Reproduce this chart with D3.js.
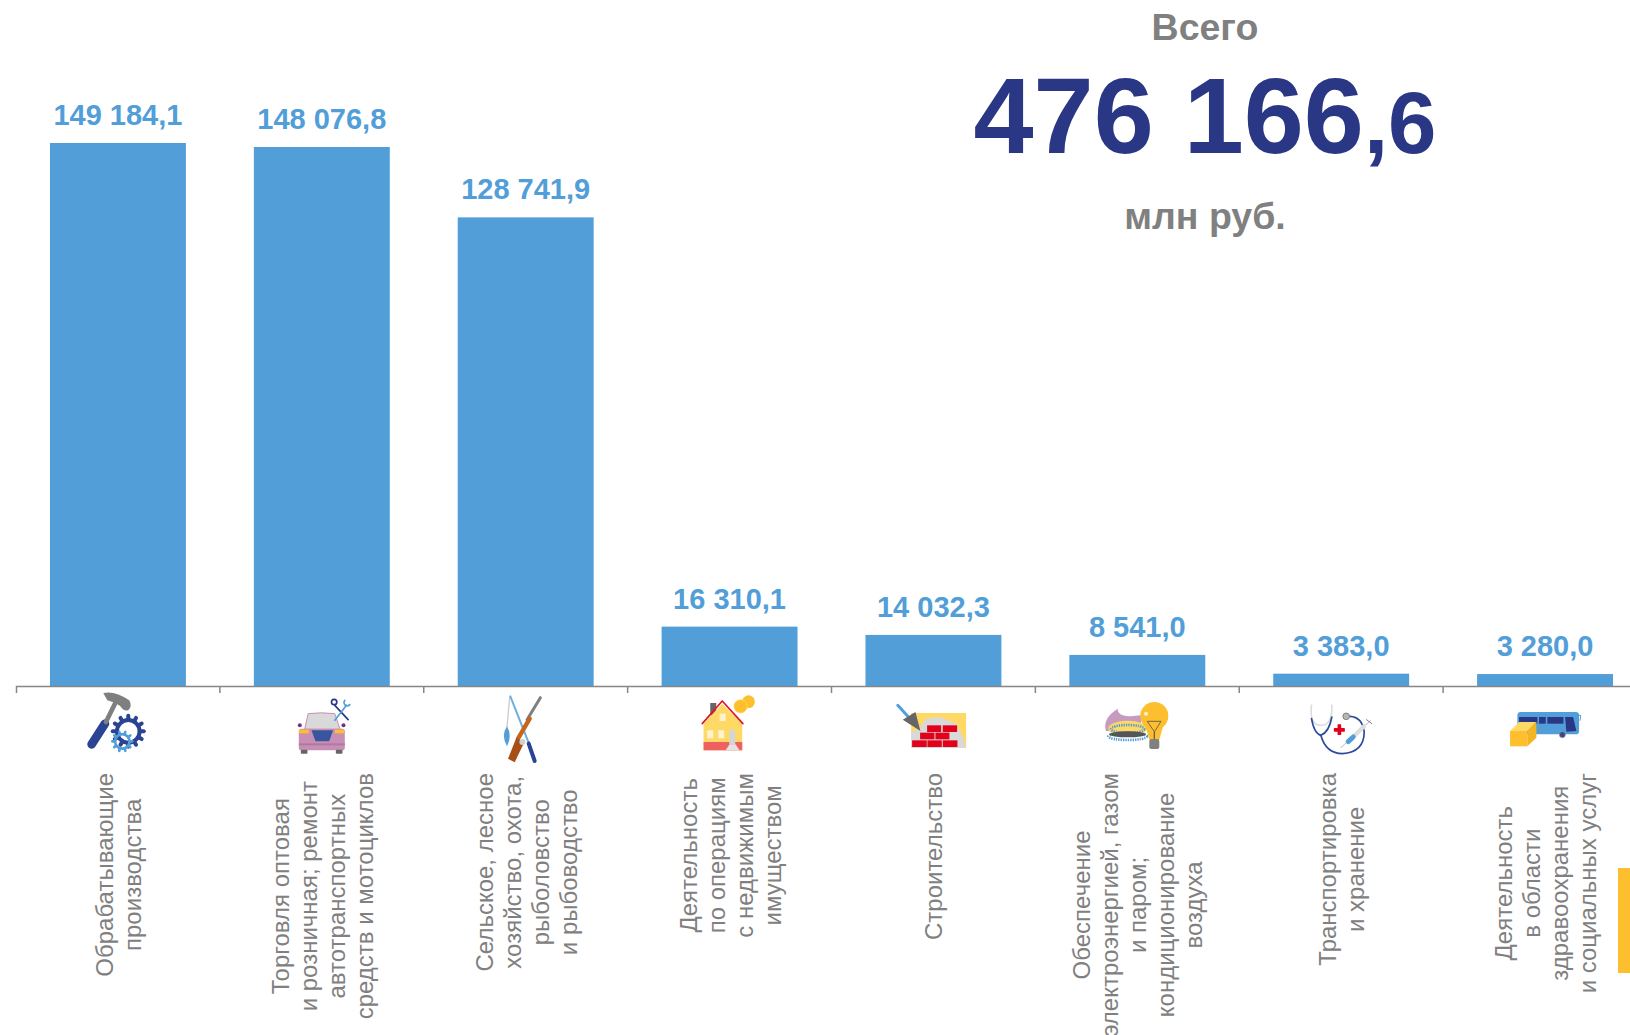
<!DOCTYPE html>
<html lang="ru">
<head>
    <meta charset="UTF-8">
    <title>Всего 476 166,6 млн руб.</title>
    <script src="https://d3js.org/d3.v7.min.js"></script>
    <style>
        html, body { margin: 0; padding: 0; background: #fff; overflow: hidden; }
        text { font-family: "Liberation Sans", Arial, sans-serif; }
    </style>
</head>
<body>
    <svg id="chart" width="1630" height="1035"></svg>

    <script>
        // Data
        const categories = [
            ['Обрабатывающие', 'производства'],
            ['Торговля оптовая', 'и розничная; ремонт', 'автотранспортных', 'средств и мотоциклов'],
            ['Сельское, лесное', 'хозяйство, охота,', 'рыболовство', 'и рыбоводство'],
            ['Деятельность', 'по операциям', 'с недвижимым', 'имуществом'],
            ['Строительство'],
            ['Обеспечение', 'электроэнергией, газом', 'и паром;', 'кондиционирование', 'воздуха'],
            ['Транспортировка', 'и хранение'],
            ['Деятельность', 'в области', 'здравоохранения', 'и социальных услуг']
        ];
        const values = [149184.1, 148076.8, 128741.9, 16310.1, 14032.3, 8541.0, 3383.0, 3280.0];
        const total = 476166.6;

        const blue = '#519ed8', navy = '#2a3785', grey = '#808080', yellow = '#fdbf2d';
        const axisY = 686, labelTop = 773;

        const ru = d3.formatLocale({ decimal: ',', thousands: ' ', grouping: [3], currency: ['', ' руб.'] });
        const fmt = ru.format(',.1f');

        const svg = d3.select('#chart');

        // The last band runs past the right edge of the page, like in the reference
        const x = d3.scaleBand().domain(d3.range(values.length)).range([16, 1647])
            .paddingInner(1 / 3).paddingOuter(1 / 6);
        const y = d3.scaleLinear().domain([0, 160000]).range([axisY, 103.6]);

        // Bars
        svg.append('g').selectAll('rect').data(values).join('rect')
            .attr('x', (d, i) => x(i))
            .attr('y', d => y(d))
            .attr('width', x.bandwidth())
            .attr('height', d => axisY - y(d))
            .attr('fill', blue);

        // Value labels
        svg.append('g').selectAll('text').data(values).join('text')
            .attr('x', (d, i) => x(i) + x.bandwidth() / 2)
            .attr('y', d => y(d) - 18)
            .attr('text-anchor', 'middle')
            .attr('font-size', 29)
            .attr('font-weight', 'bold')
            .attr('fill', blue)
            .text(d => fmt(d));

        // Axis: the ticks sit between the bands, not under the bars
        const axis = svg.append('g').attr('transform', `translate(0,${axisY})`)
            .call(d3.axisBottom(x).tickValues([]).tickSizeOuter(7));
        axis.select('.domain').attr('stroke', '#868686').attr('stroke-width', 1.5);
        axis.selectAll('line.sep').data(values.slice(1)).join('line')
            .attr('class', 'sep')
            .attr('x1', (d, i) => x(i + 1) - x.step() * x.paddingInner() / 2)
            .attr('x2', (d, i) => x(i + 1) - x.step() * x.paddingInner() / 2)
            .attr('y1', 0)
            .attr('y2', 7)
            .attr('stroke', '#868686')
            .attr('stroke-width', 1.5);

        // Category labels, rotated, with the lines centred on the longest one
        categories.forEach((lines, i) => {
            const g = svg.append('g');
            const texts = g.selectAll('text').data(lines).join('text')
                .attr('font-size', 24)
                .attr('fill', grey)
                .attr('text-anchor', 'middle')
                .attr('y', (d, j) => 9 + (j - (lines.length - 1) / 2) * 28)
                .text(d => d);
            const longest = d3.max(texts.nodes(), n => n.getComputedTextLength());
            texts.attr('x', -longest / 2);
            g.attr('transform', `translate(${x(i) + x.bandwidth() / 2},${labelTop}) rotate(-90)`);
        });

        // Total block
        const centre = 1205;
        const parts = fmt(total).split(',');
        svg.append('text').attr('x', centre).attr('y', 40).attr('text-anchor', 'middle')
            .attr('font-size', 37.5).attr('font-weight', 'bold').attr('fill', grey).text('Всего');
        const big = svg.append('text').attr('x', centre).attr('y', 153).attr('text-anchor', 'middle')
            .attr('font-weight', 'bold').attr('fill', navy);
        big.append('tspan').attr('font-size', 108).text(parts[0]);
        big.append('tspan').attr('font-size', 87).text(',' + parts[1]);
        svg.append('text').attr('x', centre).attr('y', 229).attr('text-anchor', 'middle')
            .attr('font-size', 37.5).attr('font-weight', 'bold').attr('fill', grey).text('млн руб.');

        // Yellow tab on the right edge
        svg.append('rect').attr('x', 1618).attr('y', 868).attr('width', 12).attr('height', 105).attr('fill', yellow);

        // Small drawing helpers for the pictograms
        function shape(g, d, fill, stroke, sw) {
            return g.append('path').attr('d', d)
                .attr('fill', fill || 'none')
                .attr('stroke', stroke || 'none')
                .attr('stroke-width', sw || 0)
                .attr('stroke-linecap', 'round')
                .attr('stroke-linejoin', 'round');
        }
        function box(g, x0, y0, x1, y1, fill, r) {
            return g.append('rect').attr('x', x0).attr('y', y0).attr('width', x1 - x0).attr('height', y1 - y0)
                .attr('rx', r || 0).attr('fill', fill);
        }
        function disc(g, cx, cy, r, fill, stroke, sw) {
            return g.append('circle').attr('cx', cx).attr('cy', cy).attr('r', r)
                .attr('fill', fill || 'none').attr('stroke', stroke || 'none').attr('stroke-width', sw || 0);
        }
        function gear(g, cx, cy, r, teeth, color, sw) {
            disc(g, cx, cy, r * 0.68, 'none', color, sw);
            d3.range(teeth).forEach(k => {
                const a = k / teeth * 2 * Math.PI;
                shape(g, `M${cx + Math.cos(a) * r * 0.7},${cy + Math.sin(a) * r * 0.7}L${cx + Math.cos(a) * r * 0.93},${cy + Math.sin(a) * r * 0.93}`,
                    'none', color, sw);
            });
        }

        // Pictograms, drawn in the 3x crop pixels of the reference; zero is the band centre
        const icons = [
            [354, g => {
                shape(g, 'M275,252L315,190', null, '#2a4392', 26);
                shape(g, 'M318,185L345,130', null, '#7f7f7f', 14);
                shape(g, 'M310,98Q345,90 388,120Q398,138 385,150Q372,154 360,136Q340,124 322,120Z', '#7f7f7f');
                gear(g, 385, 213, 50, 12, '#2a4392', 12);
                gear(g, 367, 243, 32, 10, '#519ed8', 8);
            }],
            [966, g => {
                box(g, 897, 205, 1035, 270, '#c78fb5', 8);
                shape(g, 'M915,205L925,160Q965,155 1005,160L1020,205Z', '#d9d9d9', '#c78fb5', 3);
                box(g, 897, 208, 927, 219, yellow);
                box(g, 1005, 208, 1033, 219, yellow);
                shape(g, 'M935,210L1000,210L988,243L947,243Z', '#3a55a0');
                box(g, 897, 249, 1035, 255, '#b07aa0');
                box(g, 903, 268, 923, 280, '#666', 3);
                box(g, 1008, 268, 1028, 280, '#666', 3);
                disc(g, 900, 195, 6, '#7a2e8e');
                disc(g, 1031, 195, 6, '#7a2e8e');
                shape(g, 'M1005,135L1045,178', null, navy, 5);
                shape(g, 'M1040,135L1005,180', null, blue, 5);
                disc(g, 1003, 125, 8, 'none', navy, 5);
                shape(g, 'M1035,120A9,9 0 1 0 1050,133', null, blue, 5);
            }],
            [318, g => {
                shape(g, 'M270,110L262,200', null, '#cccccc', 4);
                shape(g, 'M272,108L330,255', null, '#6cb0e0', 6);
                shape(g, 'M327,250L345,302', null, '#2a4392', 12);
                shape(g, 'M262,198Q278,225 262,258Q243,225 262,198Z', blue);
                shape(g, 'M362,112L322,178', null, '#7f7f7f', 9);
                shape(g, 'M330,175L295,235', null, '#c5651f', 13);
                shape(g, 'M290,232L314,246L285,306L265,295Z', '#a84f16');
                disc(g, 308, 245, 9, '#d0d0d0');
            }],
            [930, g => {
                box(g, 872, 128, 890, 165, '#666');
                shape(g, 'M852,190L908,130L968,190L968,270L852,270Z', '#ffd966');
                box(g, 852, 245, 968, 270, '#ef6060');
                shape(g, 'M848,190L908,122L970,190', null, '#e0142c', 5);
                box(g, 900, 160, 918, 182, '#fff3cf');
                box(g, 863, 210, 881, 234, '#fff3cf');
                box(g, 896, 210, 914, 234, '#fff3cf');
                box(g, 929, 210, 947, 252, '#d5d5d5');
                shape(g, 'M918,270L930,252L948,252L960,270Z', '#e3e3e3');
                disc(g, 987, 124, 19, yellow);
                disc(g, 963, 138, 20, yellow, '#ffd966', 2);
            }],
            [282, g => {
                box(g, 215, 158, 380, 263, '#ffd966');
                shape(g, 'M215,263L215,215L240,205L260,175L300,170L350,190L375,240L378,263Z', '#d9d9d9');
                [[263, 195, 305, 215], [310, 195, 353, 215], [242, 217, 285, 237], [288, 217, 330, 237],
                 [218, 240, 262, 260], [264, 240, 307, 260], [310, 240, 354, 260]]
                    .forEach(b => box(g, b[0], b[1], b[2], b[3], '#e2001a'));
                shape(g, 'M175,135L205,168', null, blue, 9);
                shape(g, 'M190,178L228,155L243,212Z', '#666');
            }],
            [894, g => {
                shape(g, 'M800,212Q788,175 835,145Q835,175 905,165L905,215Z', '#c79ac0');
                g.append('ellipse').attr('cx', 865).attr('cy', 205).attr('rx', 58).attr('ry', 24).attr('fill', '#ffd966');
                g.append('ellipse').attr('cx', 865).attr('cy', 206).attr('rx', 50).attr('ry', 12)
                    .attr('fill', 'none').attr('stroke', blue).attr('stroke-width', 8).attr('stroke-dasharray', '4 3');
                g.append('ellipse').attr('cx', 865).attr('cy', 228).attr('rx', 58).attr('ry', 11)
                    .attr('fill', 'none').attr('stroke', blue).attr('stroke-width', 8).attr('stroke-dasharray', '4 3');
                g.append('ellipse').attr('cx', 865).attr('cy', 222).attr('rx', 55).attr('ry', 9).attr('fill', '#555');
                disc(g, 945, 167, 42, yellow);
                shape(g, 'M918,195L972,195L960,238L930,238Z', yellow);
                box(g, 930, 236, 960, 266, '#808080', 6);
                shape(g, 'M925,183L965,183L945,215L945,236L945,215Z', null, '#555', 2.5);
                disc(g, 920, 160, 6, '#fff3cf');
            }],
            [336, g => {
                shape(g, 'M247,135Q240,195 275,195Q310,195 308,135', null, '#dddddd', 5);
                shape(g, 'M247,175Q255,220 275,225Q300,215 308,170', null, '#2a4a9a', 5);
                shape(g, 'M275,225Q290,280 340,280Q405,275 405,215Q400,170 362,168', null, '#2a4a9a', 5);
                disc(g, 351, 168, 10, '#b5b5b5', '#808080', 3);
                box(g, 314, 203, 347, 214, '#e2001a', 2);
                box(g, 325, 192, 336, 224, '#e2001a', 2);
                shape(g, 'M335,262L425,180', null, '#bbbbbb', 3);
                shape(g, 'M375,227L405,197', null, '#dddddd', 12);
                shape(g, 'M357,244L372,230', null, blue, 15);
                shape(g, 'M412,178L428,190', null, '#808080', 3);
            }],
            [948, g => {
                box(g, 865, 155, 1050, 222, blue, 10);
                box(g, 870, 170, 925, 190, navy);
                box(g, 930, 170, 950, 190, navy);
                box(g, 955, 170, 1003, 190, navy);
                shape(g, 'M1008,170L1032,170L1042,212L1012,214Z', navy);
                disc(g, 1000, 223, 9, '#3a4a80', '#8a94b8', 2);
                shape(g, 'M1035,165L1055,165L1053,180', null, blue, 3);
                shape(g, 'M843,212L895,212L895,258L843,258Z', yellow);
                shape(g, 'M843,212L870,185L922,185L895,212Z', '#ffd966');
                shape(g, 'M895,212L922,185L922,232L895,258Z', '#f5b520');
            }]
        ];
        icons.forEach((icon, i) => {
            const g = svg.append('g')
                .attr('transform', `translate(${x(i) + x.bandwidth() / 2},${axisY}) scale(${1 / 3}) translate(${-icon[0]},-77)`);
            icon[1](g);
        });
    </script>
</body>
</html>
